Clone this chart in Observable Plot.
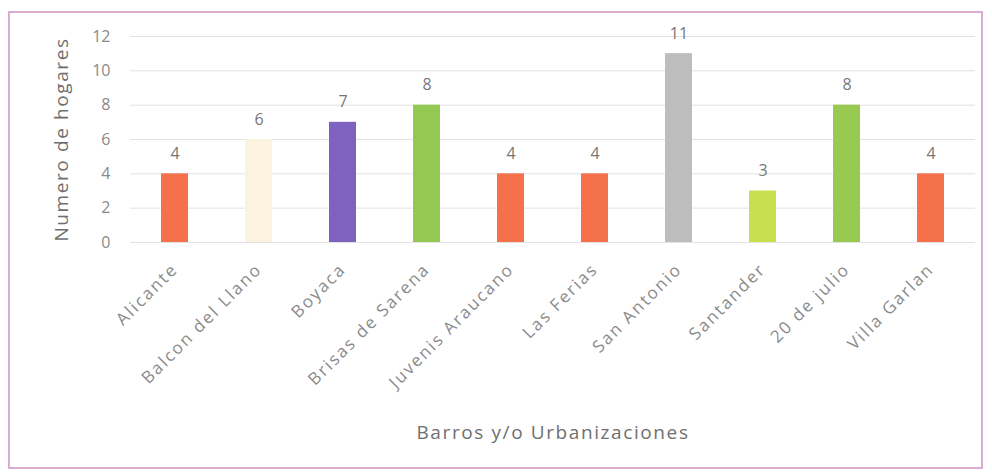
<!DOCTYPE html>
<html>
<head>
<meta charset="utf-8">
<script src="https://cdn.jsdelivr.net/npm/d3@7"></script>
<script src="https://cdn.jsdelivr.net/npm/@observablehq/plot@0.6"></script>
<style>
  html, body { margin: 0; padding: 0; background: #fff; }
  #wrap { position: relative; width: 992px; height: 475px; }
  #border { position: absolute; left: 8px; top: 11px; width: 975px; height: 458px;
            border: 2px solid #dbaed0; box-sizing: border-box; pointer-events: none; }
</style>
</head>
<body>
<div id="wrap"><div id="border"></div></div>
<script>
const barrios = ["Alicante", "Balcon del Llano", "Boyaca", "Brisas de Sarena", "Juvenis Araucano",
                 "Las Ferias", "San Antonio", "Santander", "20 de julio", "Villa Garlan"];
const hogares = [4, 6, 7, 8, 4, 4, 11, 3, 8, 4];
const colores = ["#f4714c", "#fbf3df", "#7f62c0", "#93c852", "#f4714c",
                 "#f4714c", "#bdbdbd", "#c8e04e", "#98c951", "#f4714c"];
const yTicks = [0, 2, 4, 6, 8, 10, 12];

const data = barrios.map((b, i) => ({barrio: b, valor: hogares[i], color: colores[i]}));

const chart = Plot.plot({
  width: 992,
  height: 475,
  marginLeft: 130,
  marginRight: 17,
  marginTop: 36,
  marginBottom: 233,
  style: {fontFamily: "Open Sans, sans-serif", fontSize: "15px", color: "#666", background: "transparent"},
  x: {domain: barrios, paddingInner: 0.68, paddingOuter: 0.34},
  y: {domain: [0, 12]},
  marks: [
    Plot.gridY(yTicks, {stroke: "#e2e2e2", strokeOpacity: 1}),
    Plot.axisY(yTicks, {tickSize: 0, tickPadding: 20, fontSize: 16, fill: "#8a8a8a",
      label: "Numero de hogares", labelAnchor: "center", labelOffset: 76, labelArrow: "none"}),
    Plot.axisX({tickSize: 0, tickPadding: 24, tickRotate: -45, fontSize: 17, fill: "#8a8a8a",
      label: "Barros y/o Urbanizaciones", labelAnchor: "center", labelOffset: 196, labelArrow: "none"}),
    Plot.barY(data, {x: "barrio", y: "valor", fill: "color"}),
    Plot.text(data, {x: "barrio", y: "valor", text: "valor", dy: -20, fontSize: 16, fill: "#777"})
  ]
});
chart.querySelectorAll("[aria-label='x-axis tick label'] text")
  .forEach(t => { t.style.letterSpacing = "2px"; });
chart.querySelectorAll("[aria-label='y-axis label'] text, [aria-label='x-axis label'] text")
  .forEach(t => { t.style.fontSize = "19px"; t.style.letterSpacing = "1.6px"; t.style.fill = "#6f6f6f"; });
document.getElementById("wrap").prepend(chart);
</script>
</body>
</html>
